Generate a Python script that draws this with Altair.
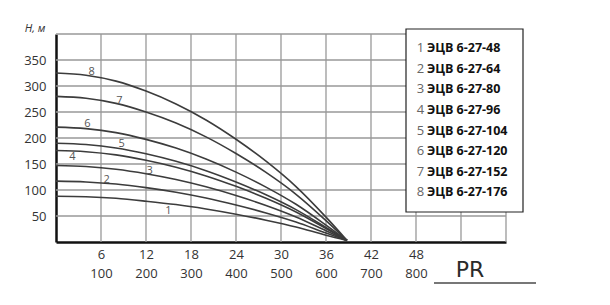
import altair as alt
import pandas as pd

# Flow Q (m3/h) sample points
q_points = [0, 4, 8, 12, 16, 20, 24, 28, 32, 36, 38.8]

# Head H (m) per pump curve
curve_1 = [88, 87, 84, 78.5, 72, 63.5, 53.5, 42, 29, 13, 3]
curve_2 = [117, 115.5, 111.4, 104.5, 95.6, 84.5, 71.1, 55.9, 38.4, 17.2, 3]
curve_3 = [147, 145.1, 139.9, 131.3, 120.1, 106.1, 89.4, 70.3, 48.2, 21.6, 3]
curve_4 = [176, 173.7, 167.6, 157.2, 143.8, 127.1, 107, 84.1, 57.7, 25.9, 3]
curve_5 = [190, 187.5, 180.9, 169.7, 155.2, 137.2, 115.5, 90.8, 62.3, 27.9, 3]
curve_6 = [221, 218.1, 210.4, 197.4, 180.6, 159.6, 134.4, 105.6, 72.5, 32.5, 3]
curve_7 = [280, 276.4, 266.6, 250, 228.8, 202.2, 170.2, 133.8, 91.8, 41.2, 3]
curve_8 = [325, 320.8, 309.4, 290.2, 265.5, 234.7, 197.6, 155.4, 106.6, 47.8, 3]
curves = [curve_1, curve_2, curve_3, curve_4, curve_5, curve_6, curve_7, curve_8]

# Curve number labels (position in data units)
label_txt = ["1", "2", "3", "4", "5", "6", "7", "8"]
label_q = [15.0, 6.75, 12.5, 2.2, 8.75, 4.2, 8.45, 4.75]
label_h = [60, 119, 137, 163, 188, 227, 272, 327]

# Legend entries (rows placed in data units: Q column, H row level)
legend_num = ["1", "2", "3", "4", "5", "6", "7", "8"]
legend_name = ["ЭЦВ 6-27-48", "ЭЦВ 6-27-64", "ЭЦВ 6-27-80", "ЭЦВ 6-27-96",
               "ЭЦВ 6-27-104", "ЭЦВ 6-27-120", "ЭЦВ 6-27-152", "ЭЦВ 6-27-176"]
legend_h = [372.5, 333, 293.4, 253.8, 214.3, 174.7, 135.2, 95.6]
legend_num_q = 48.1
legend_name_q = 49.45

x_ticks = [0, 6, 12, 18, 24, 30, 36, 42, 48, 54, 60]
y_ticks = [0, 50, 100, 150, 200, 250, 300, 350, 400]

rows = []
for i, c in enumerate(curves):
    for q, h in zip(q_points, c):
        rows.append({"curve": i + 1, "Q": q, "H": h})
df = pd.DataFrame(rows)

lab_df = pd.DataFrame({"t": label_txt, "Q": label_q, "H": label_h})
num_df = pd.DataFrame({"t": legend_num, "Q": [legend_num_q] * 8, "H": legend_h})
name_df = pd.DataFrame({"t": legend_name, "Q": [legend_name_q] * 8, "H": legend_h})
vgrid_df = pd.DataFrame({"Q": [v for v in x_ticks if v > 0]})
hgrid_df = pd.DataFrame({"H": [v for v in y_ticks if v > 0]})

FONT = "Open Sans"
GRID = "#999999"

x_enc = alt.X("Q:Q", scale=alt.Scale(domain=[0, 60], nice=False, zero=True),
              axis=alt.Axis(values=x_ticks, grid=False,
                            ticks=False, domainColor="#111", domainWidth=2.5,
                            labelExpr="datum.value == 0 || datum.value > 48 ? '' : [format(datum.value, 'd'), format(datum.value * 100 / 6, 'd')]",
                            labelFont=FONT, labelFontSize=13, labelColor="#333",
                            labelPadding=6, labelLineHeight=19, labelFlush=False,
                            labelOverlap=False, title=None))
y_enc = alt.Y("H:Q", scale=alt.Scale(domain=[0, 400], nice=False),
              axis=alt.Axis(values=y_ticks, grid=False,
                            ticks=False, domainColor="#111", domainWidth=2.5,
                            labelExpr="datum.value == 0 || datum.value == 400 ? '' : datum.label",
                            labelFont=FONT, labelFontSize=13, labelColor="#333",
                            labelPadding=10, labelOverlap=False,
                            title="H, м", titleAngle=0, titleAlign="right",
                            titleBaseline="bottom", titleX=-11, titleY=-1,
                            titleFont=FONT, titleFontSize=11, titleFontStyle="italic",
                            titleFontWeight="normal", titleColor="#333"))

vgrid = alt.Chart(vgrid_df).mark_rule(color=GRID, strokeWidth=1.3).encode(
    x=x_enc, y=alt.value(0), y2=alt.value(208))
hgrid = alt.Chart(hgrid_df).mark_rule(color=GRID, strokeWidth=1.3).encode(
    y=y_enc, x=alt.value(0), x2=alt.value(450))

lines = alt.Chart(df).mark_line(color="#3c3c3c", strokeWidth=1.6, interpolate="monotone").encode(
    x=x_enc, y=y_enc, detail="curve:N")

nums = alt.Chart(lab_df).mark_text(font=FONT, fontSize=11, color="#555").encode(
    x=x_enc, y=y_enc, text="t:N")

box = alt.Chart(pd.DataFrame({"b": [1]})).mark_rect(fill="white", stroke="#222", strokeWidth=1.2).encode(
    x=alt.value(350), x2=alt.value(467), y=alt.value(-5), y2=alt.value(178))

leg_num = alt.Chart(num_df).mark_text(font=FONT, fontSize=13, color="#666", align="left",
                                      baseline="middle").encode(
    x=x_enc, y=y_enc, text="t:N")
leg_name = alt.Chart(name_df).mark_text(font=FONT, fontSize=12.5, fontWeight="bold", color="#111",
                                        align="left", baseline="middle").encode(
    x=x_enc, y=y_enc, text="t:N")

logo = alt.Chart(pd.DataFrame({"t": ["PR"]})).mark_text(font="DejaVu Sans", fontSize=22,
                                                        color="#2a2a2a", align="center",
                                                        baseline="middle").encode(
    x=alt.value(414), y=alt.value(236), text="t:N")
logo_line = alt.Chart(pd.DataFrame({"c": [2]})).mark_rule(color="#777", strokeWidth=2).encode(
    x=alt.value(378), x2=alt.value(480), y=alt.value(249))

chart = alt.layer(vgrid, hgrid, lines, nums, box, leg_num, leg_name, logo_line, logo).properties(
    width=450, height=208,
    autosize=alt.AutoSizeParams(type="none"),
    padding={"left": 56, "top": 34, "right": 104, "bottom": 63},
    background="white",
).configure_view(stroke=None)

chart.save("out.html", embed_options={"renderer": "svg", "actions": False})
